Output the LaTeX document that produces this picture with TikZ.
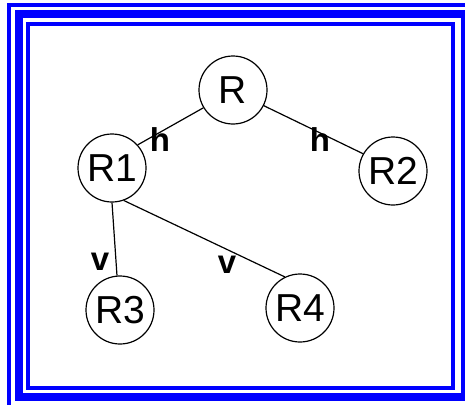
\documentclass[tikz,border=0pt]{standalone}
\usepackage{fontspec}
\setmainfont{Liberation Sans}
\definecolor{FrameBlue}{HTML}{0000FF}
\usepackage{tikz}
\usetikzlibrary{positioning}

\begin{document}
\begin{tikzpicture}[x=1pt,y=-1pt,
    region/.style={draw,circle,line width=1.2pt,minimum size=68pt,inner sep=0pt,
      font=\fontsize{39}{41}\selectfont},
    tag/.style={inner sep=0pt,font=\fontsize{33}{36}\selectfont\bfseries},
    link/.style={line width=1.2pt}]
  \useasboundingbox (0,0) rectangle (465,404);
  \fill[white] (0,0) rectangle (465,404);
  % blue frame, cut off at right and bottom
  \draw[FrameBlue,line width=4pt] (9,420) -- (9,5) -- (480,5);
  \draw[FrameBlue,line width=8pt] (18.5,14) rectangle (464.5,396.5);
  \draw[FrameBlue,line width=4pt] (28,24) rectangle (453,388);
  % regions
  \node[region] (R)  at (233,90)  {R};
  \node[region] (R1) at (112,168) {R1};
  \node[region] (R2) at (393,171) {R2};
  \node[region] (R3) at (120,310) {R3};
  \node[region] (R4) at (300,308) {R4};
  % links and their tags
  \draw[link] (R.211) -- (R1.42);
  \draw[link] (R.-27) -- (R2.150);
  \draw[link] (R1.-90) -- (R3.95);
  \draw[link] (R1.-70) -- (R4.116);
  \node[tag] (h1) at (160,140) {h};
  \node[tag] (h2) at (320,140) {h};
  \node[tag] (v1) at (100,262) {v};
  \node[tag] (v2) at (227,265) {v};
\end{tikzpicture}
\end{document}
